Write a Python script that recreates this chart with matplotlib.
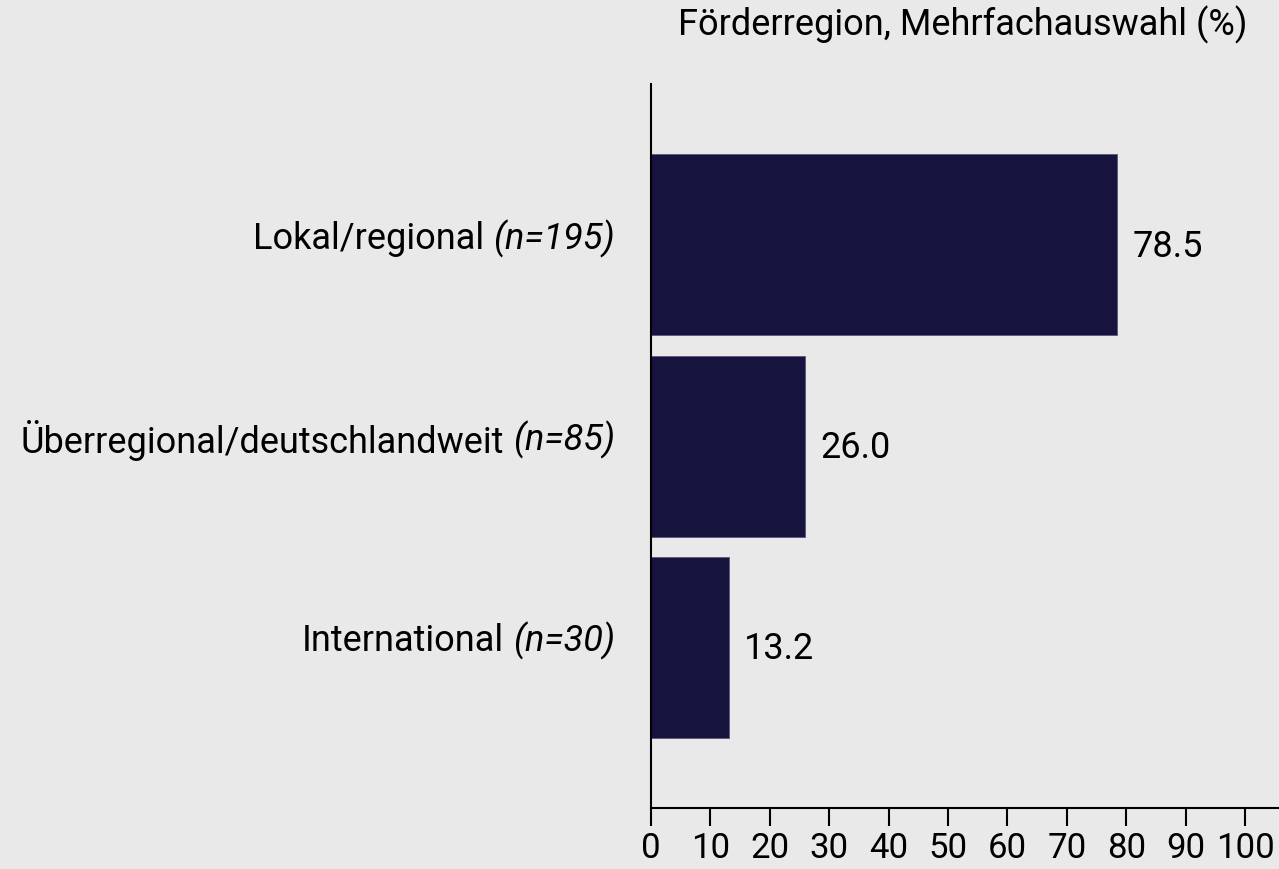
import matplotlib
matplotlib.use("Agg")
import matplotlib.pyplot as plt

categories = ["Lokal/regional", "Überregional/deutschlandweit", "International"]
n_labels = ["(n=195)", "(n=85)", "(n=30)"]
values = [78.5, 26.0, 13.2]
xticks = [0, 10, 20, 30, 40, 50, 60, 70, 80, 90, 100]
title = "Förderregion, Mehrfachauswahl (%)"

bg = "#e9e9e9"
bar_color = "#16133f"
fs = 26
plt.rcParams["font.family"] = ["Roboto", "DejaVu Sans"]

fig = plt.figure(figsize=(12.79, 8.69), dpi=100, facecolor=bg)
ax = fig.add_axes([0.509, 0.0702, 0.491, 0.8331], facecolor=bg)

pos = list(range(len(categories)))
ax.barh(pos, values, height=0.9, color=bar_color, edgecolor="#5a5878", linewidth=0.6)
ax.set_ylim(2.8, -0.8)
ax.set_xlim(0, 105.7)

for p, v in zip(pos, values):
    ax.annotate(f"{v:.1f}", xy=(v, p), xytext=(15, -2), textcoords="offset pixels",
                ha="left", va="center", fontsize=fs, color="black")

ax.set_yticks([])
ax.set_xticks(xticks)
ax.set_xticklabels([str(t) for t in xticks], fontsize=25)
ax.tick_params(axis="x", length=13, width=1.5, pad=4, colors="black")
for s in ["top", "right"]:
    ax.spines[s].set_visible(False)
ax.spines["left"].set_linewidth(1.5)
ax.spines["bottom"].set_linewidth(1.5)

# category labels: normal text + italic n
fig.canvas.draw()
r = fig.canvas.get_renderer()
for p, name, nl in zip(pos, categories, n_labels):
    t = ax.annotate(nl, xy=(0, p), xycoords=("axes fraction", "data"), xytext=(-36, 6),
                    textcoords="offset pixels", ha="right", va="center",
                    fontsize=fs, style="italic", annotation_clip=False)
    w = t.get_window_extent(r).width
    ax.annotate(name, xy=(0, p), xycoords=("axes fraction", "data"), xytext=(-36 - w - 9, 6),
                textcoords="offset pixels", ha="right", va="center",
                fontsize=fs, annotation_clip=False)

fig.text(0.975, 0.972, title, ha="right", va="center", fontsize=fs)

fig.savefig("out.png", dpi=100, facecolor=bg)
